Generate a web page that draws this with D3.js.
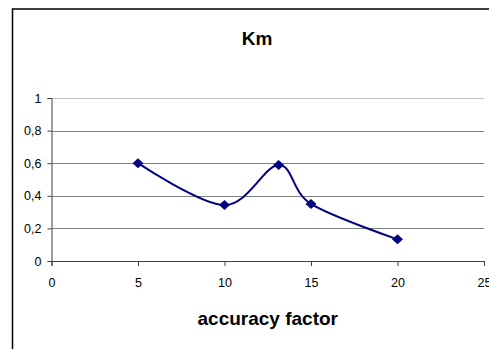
<!DOCTYPE html>
<html>
<head>
<meta charset="utf-8">
<script src="https://cdn.jsdelivr.net/npm/d3@7"></script>
<style>
  body { margin: 0; background: #fff; }
  svg { display: block; font-family: Arial, "Liberation Sans", sans-serif; }
</style>
</head>
<body>
<svg id="chart" width="489" height="349"></svg>
<script>
"use strict";
// values
const accuracyFactor = [5, 10, 13.13, 15, 20];
const km = [0.6, 0.343, 0.589, 0.35, 0.133];
const xTicks = [0, 5, 10, 15, 20, 25];
const yTicks = [0, 0.2, 0.4, 0.6, 0.8, 1];
const title = "Km";
const xTitle = "accuracy factor";

const svg = d3.select('#chart');
const plot = { left: 51.5, right: 484, top: 98, bottom: 261 };

const x = d3.scaleLinear().domain([0, 25]).range([plot.left, plot.right]);
const y = d3.scaleLinear().domain([0, 1]).range([plot.bottom, plot.top]);
const fmt = d => String(d).replace('.', ',');

// outer chart frame
svg.append('rect')
    .attr('x', 12.5).attr('y', 9)
    .attr('width', 500).attr('height', 360)
    .attr('fill', 'none')
    .attr('stroke', '#000')
    .attr('stroke-width', 1.5);

// gridlines
svg.append('g')
    .selectAll('line')
    .data(yTicks.filter(d => d > 0))
    .join('line')
    .attr('x1', plot.left).attr('x2', plot.right)
    .attr('y1', d => Math.round(y(d)) + 0.5).attr('y2', d => Math.round(y(d)) + 0.5)
    .attr('stroke', d => d === 1 ? '#c0c0c0' : '#808080')
    .attr('stroke-width', 1);

// y axis
const yAxis = svg.append('g')
    .attr('transform', `translate(${plot.left},0)`)
    .call(d3.axisLeft(y).tickValues(yTicks).tickFormat(fmt).tickSize(4).tickPadding(6));
yAxis.select('.domain').attr('stroke', '#404040');
yAxis.selectAll('.tick line').attr('stroke', '#404040');
yAxis.selectAll('text').attr('font-size', 12.5).attr('fill', '#000')
    .attr('font-family', 'Arial, "Liberation Sans", sans-serif');

// x axis
const xAxis = svg.append('g')
    .attr('transform', `translate(0,${plot.bottom})`)
    .call(d3.axisBottom(x).tickValues(xTicks).tickFormat(fmt).tickSize(5).tickPadding(12));
xAxis.select('.domain').attr('stroke', '#404040');
xAxis.selectAll('.tick line').attr('stroke', '#404040');
xAxis.selectAll('text').attr('font-size', 12.5).attr('fill', '#000')
    .attr('font-family', 'Arial, "Liberation Sans", sans-serif');

// smoothed line
const pts = accuracyFactor.map((v, i) => [v, km[i]]);
const line = d3.line()
    .x(d => x(d[0]))
    .y(d => y(d[1]))
    .curve(d3.curveCatmullRom.alpha(0));

svg.append('path')
    .datum(pts)
    .attr('d', line)
    .attr('fill', 'none')
    .attr('stroke', '#000080')
    .attr('stroke-width', 2);

// diamond markers
svg.append('g')
    .selectAll('path')
    .data(pts)
    .join('path')
    .attr('transform', d => `translate(${x(d[0])},${y(d[1])})`)
    .attr('d', 'M0,-5L5.5,0L0,5L-5.5,0Z')
    .attr('fill', '#000080');

// titles
svg.append('text')
    .attr('x', 257).attr('y', 45)
    .attr('text-anchor', 'middle')
    .attr('font-size', 19).attr('font-weight', 'bold')
    .text(title);

svg.append('text')
    .attr('x', (plot.left + plot.right) / 2).attr('y', 325)
    .attr('text-anchor', 'middle')
    .attr('font-size', 19).attr('font-weight', 'bold')
    .text(xTitle);
</script>
</body>
</html>
